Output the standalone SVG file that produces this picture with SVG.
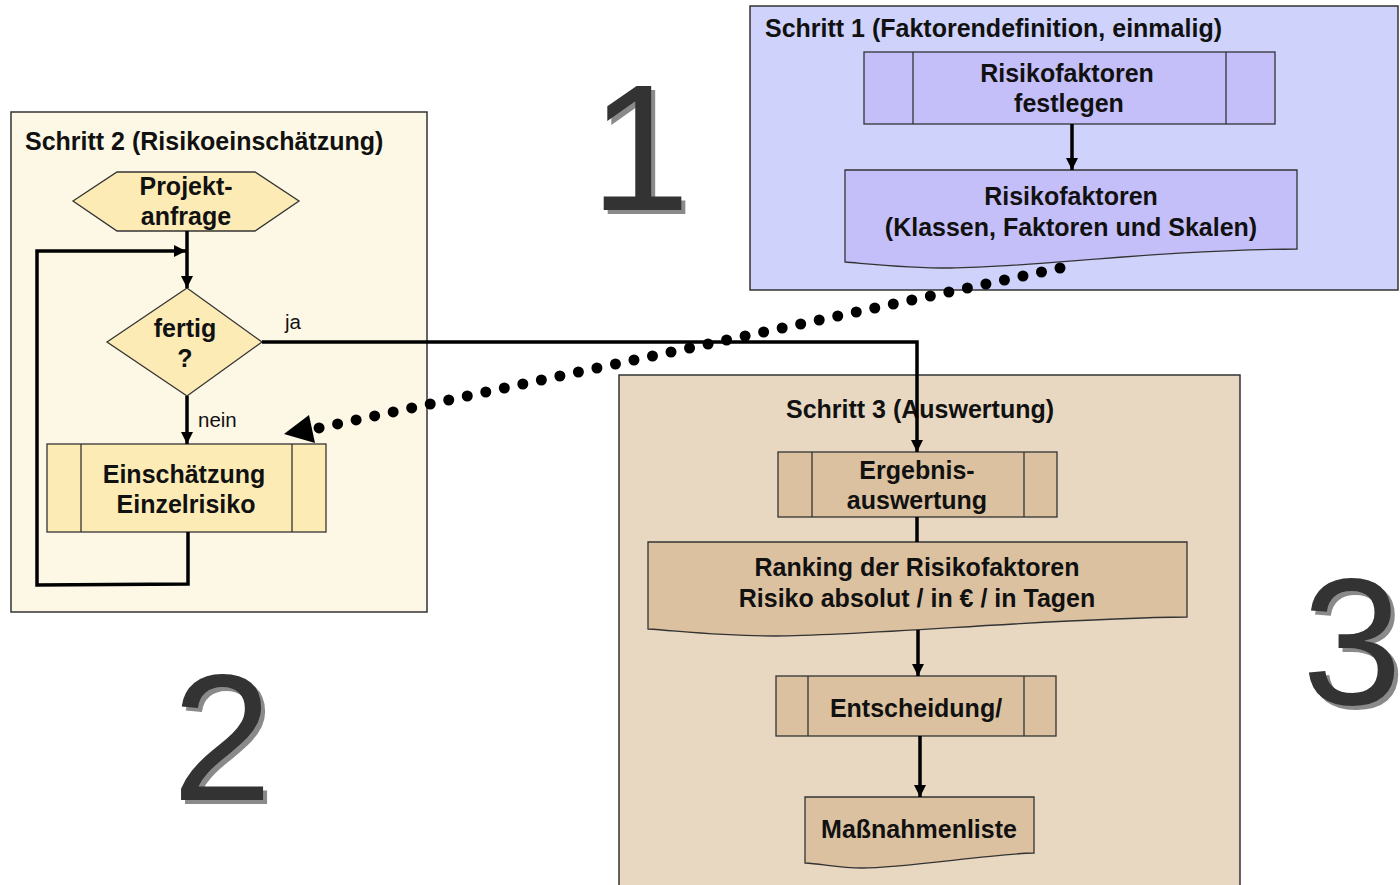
<svg xmlns="http://www.w3.org/2000/svg" width="1400" height="885" viewBox="0 0 1400 885">
<defs>
<style>
.t{font-family:"Liberation Sans",Arial,sans-serif;font-weight:bold;font-size:25px;fill:#111;text-anchor:middle}
.tl{font-family:"Liberation Sans",Arial,sans-serif;font-weight:bold;font-size:25px;fill:#111}
.lbl{font-family:"Liberation Sans",Arial,sans-serif;font-size:20.5px;fill:#111}
.big{font-family:"Liberation Sans",Arial,sans-serif;font-size:180px}
.sh{fill:#8a8a8a}
.fg{fill:#333333}
.cont{stroke:#333;stroke-width:1.5}
.nd{stroke:#333;stroke-width:1.3}
.y{fill:#fdebb6}
.b{fill:#c5bff9}
.br{fill:#dbc1a0}
.con{fill:none;stroke:#000;stroke-width:3.5}
</style>
<marker id="ah" viewBox="0 0 10 10" refX="10" refY="5" markerWidth="12" markerHeight="13" markerUnits="userSpaceOnUse" orient="auto">
<path d="M0,0 L10,5 L0,10 z" fill="#000"/>
</marker>
</defs>

<g id="schritt1">
<rect x="750" y="6" width="648" height="284" fill="#cfd3fb" class="cont"/>
<text class="tl" x="765" y="37">Schritt 1 (Faktorendefinition, einmalig)</text>
</g>
<g id="schritt2">
<rect x="11" y="112" width="416" height="500" fill="#fdf8e5" class="cont"/>
<text class="tl" x="25" y="150">Schritt 2 (Risikoeinschätzung)</text>
</g>
<g id="schritt3">
<rect x="619" y="375" width="621" height="515" fill="#e8d8c2" class="cont"/>
<text class="t" x="920" y="418">Schritt 3 (Auswertung)</text>
</g>

<g id="festlegen">
<rect x="864" y="52" width="411" height="72" class="b nd"/>
<line x1="913" y1="52" x2="913" y2="124" class="nd"/>
<line x1="1226" y1="52" x2="1226" y2="124" class="nd"/>
<text class="t" x="1067" y="82">Risikofaktoren</text>
<text class="t" x="1069" y="112">festlegen</text>
</g>
<g id="faktoren">
<path d="M845,170 H1297 V249 C1150,250 1030,268 950,268 C905,268 870,264 845,262 Z" class="b nd"/>
<text class="t" x="1071" y="205">Risikofaktoren</text>
<text class="t" x="1071" y="236">(Klassen, Faktoren und Skalen)</text>
</g>

<g id="projektanfrage">
<polygon points="73,201 117,172 255,172 299,201 255,231 117,231" class="y nd"/>
<text class="t" x="186" y="195">Projekt-</text>
<text class="t" x="186" y="225">anfrage</text>
</g>
<g id="fertig">
<polygon points="107,342 187,288 262,342 187,396" class="y nd"/>
<text class="t" x="185" y="337">fertig</text>
<text class="t" x="185" y="367">?</text>
</g>
<g id="einschaetzung">
<rect x="47" y="444" width="279" height="88" class="y nd"/>
<line x1="81" y1="444" x2="81" y2="532" class="nd"/>
<line x1="292" y1="444" x2="292" y2="532" class="nd"/>
<text class="t" x="184" y="483">Einschätzung</text>
<text class="t" x="186" y="513">Einzelrisiko</text>
</g>

<g id="ergebnis">
<rect x="778" y="452" width="279" height="65" class="br nd"/>
<line x1="812" y1="452" x2="812" y2="517" class="nd"/>
<line x1="1024" y1="452" x2="1024" y2="517" class="nd"/>
<text class="t" x="917" y="479">Ergebnis-</text>
<text class="t" x="917" y="509">auswertung</text>
</g>
<g id="ranking">
<path d="M648,542 H1187 V617 C1050,618 870,636 775,636 C720,636 680,631 648,629 Z" class="br nd"/>
<text class="t" x="917" y="576">Ranking der Risikofaktoren</text>
<text class="t" x="917" y="607">Risiko absolut / in € / in Tagen</text>
</g>
<g id="entscheidung">
<rect x="776" y="676" width="280" height="60" class="br nd"/>
<line x1="808" y1="676" x2="808" y2="736" class="nd"/>
<line x1="1024" y1="676" x2="1024" y2="736" class="nd"/>
<text class="t" x="916" y="717">Entscheidung/</text>
</g>
<g id="massnahmen">
<path d="M805,797 H1034 V853 C990,854 905,868 862,868 C840,868 822,864 805,863 Z" class="br nd"/>
<text class="t" x="919" y="838">Maßnahmenliste</text>
</g>

<g id="connectors">
<line x1="1072" y1="124" x2="1072" y2="170" class="con" marker-end="url(#ah)"/>
<line x1="187" y1="231" x2="187" y2="288" class="con" marker-end="url(#ah)"/>
<polyline points="188,532 188,584 37,585 37,251 186,251" class="con" stroke-width="4" marker-end="url(#ah)"/>
<line x1="187" y1="396" x2="187" y2="444" class="con" marker-end="url(#ah)"/>
<polyline points="262,342 917,342 917,452" class="con" marker-end="url(#ah)"/>
<line x1="917" y1="517" x2="917" y2="542" class="con"/>
<line x1="918" y1="630" x2="918" y2="676" class="con" marker-end="url(#ah)"/>
<line x1="920" y1="736" x2="920" y2="797" class="con" marker-end="url(#ah)"/>
<line x1="1060" y1="268" x2="319" y2="428" fill="none" stroke="#000" stroke-width="11" stroke-linecap="round" stroke-dasharray="0 18.95"/>
<polygon points="284,434 315,443 309,415" fill="#000"/>
<text class="lbl" x="285" y="329">ja</text>
<text class="lbl" x="198" y="427">nein</text>
</g>

<g id="num1">
<text class="big sh" x="594" y="214">1</text>
<text class="big fg" x="590" y="210">1</text>
</g>
<g id="num2">
<text class="big sh" x="176" y="804">2</text>
<text class="big fg" x="172" y="800">2</text>
</g>
<g id="num3">
<text class="big sh" x="1306" y="708">3</text>
<text class="big fg" x="1302" y="704">3</text>
</g>
</svg>
